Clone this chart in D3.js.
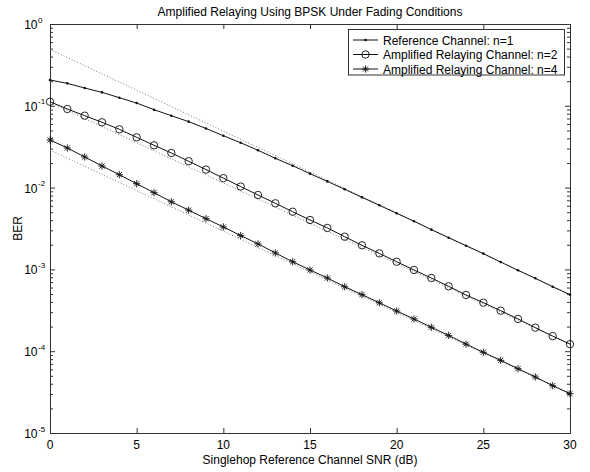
<!DOCTYPE html>
<html>
<head>
<meta charset="utf-8">
<script src="https://cdn.jsdelivr.net/npm/d3@7"></script>
<style>
  html, body { margin: 0; padding: 0; background: #fff; }
  svg { display: block; font-family: "Liberation Sans", Arial, Helvetica, sans-serif; }
</style>
</head>
<body>
<svg id="chart" width="590" height="472"></svg>
<script>
// SNR grid (dB)
const snr = d3.range(0, 31);

// BER of each channel at every SNR step
const berRef = [0.207, 0.188, 0.165, 0.146, 0.1256, 0.108, 0.0896, 0.0757, 0.064, 0.0528,
  0.0431, 0.0353, 0.0286, 0.0228, 0.0185, 0.0148, 0.0119, 0.00953, 0.0076, 0.00608,
  0.00485, 0.00388, 0.00306, 0.00244, 0.00195, 0.00156, 0.00123, 0.000975, 0.000778, 0.000614,
  0.000491];
const berN2 = [0.1122, 0.0914, 0.0757, 0.0629, 0.0516, 0.0412, 0.0329, 0.0265, 0.0210, 0.0166,
  0.01306, 0.0103, 0.00812, 0.00643, 0.00507, 0.00402, 0.00321, 0.00251, 0.00197, 0.00157,
  0.00124, 0.000984, 0.000785, 0.000621, 0.000487, 0.000392, 0.000313, 0.000248, 0.000194, 0.000153,
  0.000122];
const berN4 = [0.0382, 0.0305, 0.0237, 0.01837, 0.01438, 0.01116, 0.00867, 0.0067, 0.0053, 0.00417,
  0.0033, 0.00259, 0.00205, 0.00159, 0.00124, 0.000984, 0.000785, 0.000614, 0.000491, 0.000391,
  0.00031, 0.000248, 0.000196, 0.000156, 0.000122, 0.000097, 0.0000774, 0.0000611, 0.0000484, 0.0000379,
  0.0000303];

// High-SNR asymptotes (straight lines on the log axis), end points at 0 and 30 dB
const asymSnr = [0, 30];
const asymRef = [0.49, 0.00049];
const asymN2 = [0.11, 0.000122];
const asymN4 = [0.0288, 0.0000303];

// Axis ticks
const xTicks = [0, 5, 10, 15, 20, 25, 30];
const yDecades = [-5, -4, -3, -2, -1, 0];

const legendLabels = [
  "Reference Channel: n=1",
  "Amplified Relaying Channel: n=2",
  "Amplified Relaying Channel: n=4"
];

const titleText = "Amplified Relaying Using BPSK Under Fading Conditions";
const xLabel = "Singlehop Reference Channel SNR (dB)";
const yLabel = "BER";

const svg = d3.select("#chart");
const plotLeft = 50, plotRight = 570, plotTop = 24, plotBottom = 433;

const x = d3.scaleLinear().domain([0, 30]).range([plotLeft, plotRight]);
const y = d3.scaleLog().domain([1e-5, 1]).range([plotBottom, plotTop]);

const axisColor = "#333";
const lineColor = "#111";

// minor log ticks 2..9 in each decade
const minorTicks = [];
yDecades.slice(0, -1).forEach(d => {
  for (let m = 2; m <= 9; m++) minorTicks.push(m * Math.pow(10, d));
});
const majorTicks = yDecades.map(d => Math.pow(10, d));

function styleAxis(g) {
  g.selectAll("path.domain").attr("stroke", axisColor).attr("stroke-width", 1);
  g.selectAll(".tick line").attr("stroke", axisColor).attr("stroke-width", 1);
  g.selectAll(".tick text").remove();
}

// bottom axis (ticks pointing inward)
const gx = svg.append("g").attr("transform", `translate(0,${plotBottom})`)
  .call(d3.axisBottom(x).tickValues(xTicks).tickSizeInner(-5).tickSizeOuter(0));
styleAxis(gx);
// top axis
const gxt = svg.append("g").attr("transform", `translate(0,${plotTop})`)
  .call(d3.axisTop(x).tickValues(xTicks).tickSizeInner(-5).tickSizeOuter(0));
styleAxis(gxt);
// left axis: majors and minors
const gyl = svg.append("g").attr("transform", `translate(${plotLeft},0)`)
  .call(d3.axisLeft(y).tickValues(majorTicks).tickSizeInner(-5).tickSizeOuter(0));
styleAxis(gyl);
const gylm = svg.append("g").attr("transform", `translate(${plotLeft},0)`)
  .call(d3.axisLeft(y).tickValues(minorTicks).tickSizeInner(-3).tickSizeOuter(0));
styleAxis(gylm);
// right axis: majors and minors
const gyr = svg.append("g").attr("transform", `translate(${plotRight},0)`)
  .call(d3.axisRight(y).tickValues(majorTicks).tickSizeInner(-5).tickSizeOuter(0));
styleAxis(gyr);
const gyrm = svg.append("g").attr("transform", `translate(${plotRight},0)`)
  .call(d3.axisRight(y).tickValues(minorTicks).tickSizeInner(-3).tickSizeOuter(0));
styleAxis(gyrm);

// x tick labels
svg.append("g").selectAll("text").data(xTicks).join("text")
  .attr("x", d => x(d)).attr("y", 449)
  .attr("text-anchor", "middle").attr("font-size", 12).attr("fill", "#000")
  .text(d => d);

// y tick labels as 10 with superscript exponent
const yl = svg.append("g").selectAll("g").data(yDecades).join("g");
yl.append("text")
  .attr("x", 37.5).attr("y", d => y(Math.pow(10, d)) + 5)
  .attr("text-anchor", "end").attr("font-size", 12).attr("fill", "#000")
  .text("10");
yl.append("text")
  .attr("x", 38).attr("y", d => y(Math.pow(10, d)) - 1.5)
  .attr("text-anchor", "start").attr("font-size", 8).attr("fill", "#000")
  .text(d => d === 0 ? "0" : "-" + Math.abs(d));

// titles
svg.append("text").attr("x", (plotLeft + plotRight) / 2).attr("y", 16)
  .attr("text-anchor", "middle").attr("font-size", 12).text(titleText);
svg.append("text").attr("x", (plotLeft + plotRight) / 2).attr("y", 464)
  .attr("text-anchor", "middle").attr("font-size", 12).text(xLabel);
svg.append("text").attr("transform", `translate(22,${(plotTop + plotBottom) / 2}) rotate(-90)`)
  .attr("text-anchor", "middle").attr("font-size", 12).text(yLabel);

// asymptotes (dotted)
const asymLine = d3.line().x((d, i) => x(asymSnr[i])).y(d => y(d));
[asymRef, asymN2, asymN4].forEach(a => {
  svg.append("path").attr("d", asymLine(a))
    .attr("fill", "none").attr("stroke", "#777").attr("stroke-width", 1)
    .attr("stroke-dasharray", "1,2");
});

// curves
const curve = d3.line().x((d, i) => x(snr[i])).y(d => y(d));
const series = [
  { values: berRef, marker: "dot" },
  { values: berN2, marker: "circle" },
  { values: berN4, marker: "star" }
];

function drawMarker(g, kind, cx, cy) {
  if (kind === "dot") {
    g.append("circle").attr("cx", cx).attr("cy", cy).attr("r", 1.3).attr("fill", lineColor);
  } else if (kind === "circle") {
    g.append("circle").attr("cx", cx).attr("cy", cy).attr("r", 3.7)
      .attr("fill", "none").attr("stroke", lineColor).attr("stroke-width", 0.9);
  } else {
    const s = 3.6, d = 2.6;
    const p = `M${cx - s},${cy}L${cx + s},${cy}M${cx},${cy - s}L${cx},${cy + s}` +
      `M${cx - d},${cy - d}L${cx + d},${cy + d}M${cx - d},${cy + d}L${cx + d},${cy - d}`;
    g.append("path").attr("d", p).attr("stroke", lineColor).attr("stroke-width", 0.9);
  }
}

series.forEach(s => {
  svg.append("path").attr("d", curve(s.values))
    .attr("fill", "none").attr("stroke", lineColor).attr("stroke-width", 1);
  const mg = svg.append("g");
  s.values.forEach((v, i) => drawMarker(mg, s.marker, x(snr[i]), y(v)));
});

// legend
const lg = svg.append("g");
lg.append("rect").attr("x", 348.5).attr("y", 29.5).attr("width", 216).attr("height", 45.5)
  .attr("fill", "#fff").attr("stroke", axisColor).attr("stroke-width", 1);
legendLabels.forEach((lab, i) => {
  const ly = 40 + i * 14.5;
  lg.append("line").attr("x1", 353).attr("x2", 378).attr("y1", ly).attr("y2", ly)
    .attr("stroke", lineColor).attr("stroke-width", 1);
  drawMarker(lg, series[i].marker, 365.5, ly);
  lg.append("text").attr("x", 383).attr("y", ly + 4.5)
    .attr("font-size", 12).attr("fill", "#000").text(lab);
});
</script>
</body>
</html>
